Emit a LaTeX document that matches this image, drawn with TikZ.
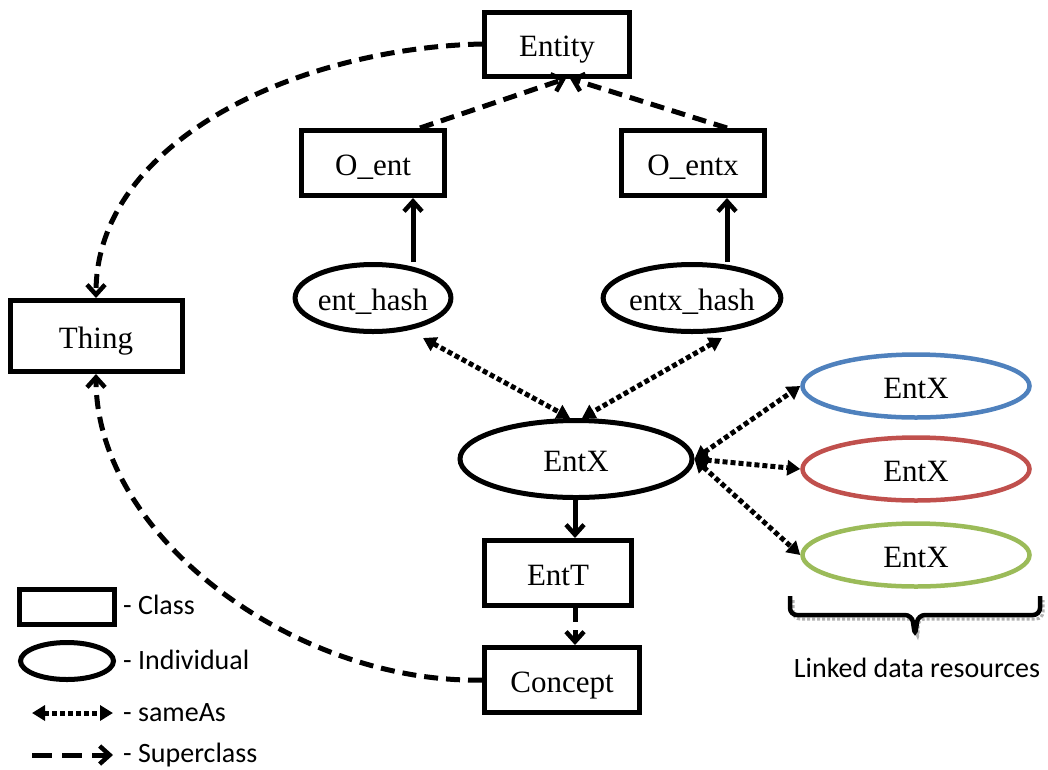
\documentclass[tikz,border=0pt]{standalone}
\usepackage{fontspec}
\setmainfont{Liberation Serif}
\newfontfamily\legendfont{Carlito}
\usetikzlibrary{arrows.meta,shapes.geometric,calc}
\definecolor{linkblue}{HTML}{4F81BD}
\definecolor{linkred}{HTML}{C0504D}
\definecolor{linkgreen}{HTML}{9BBB59}
\tikzset{
  classbox/.style={draw, line width=5pt, rectangle, inner sep=0pt,
    text height=25pt, text depth=0pt,
    font=\fontsize{31}{34}\selectfont},
  indiv/.style={draw, line width=5pt, ellipse, inner sep=0pt,
    text height=25pt, text depth=0pt,
    font=\fontsize{31}{34}\selectfont},
  superclass/.style={line width=5pt, dash pattern=on 14pt off 8pt,
    -{Straight Barb[length=10pt,width=18pt,line width=4.5pt]}},
  subsolid/.style={line width=5pt,
    -{Straight Barb[length=10pt,width=18pt,line width=4.5pt]}},
  sameas/.style={line width=5pt, dash pattern=on 5pt off 3pt,
    {Triangle[length=13pt,width=15pt]}-{Triangle[length=13pt,width=15pt]}},
  legendtext/.style={anchor=west, inner sep=0pt,
    font=\legendfont\fontsize{28}{31}\selectfont},
}
\begin{document}
\begin{tikzpicture}[x=1pt,y=-1pt]
\useasboundingbox (0,0) rectangle (1048,769);

% classes
\node[classbox, minimum width=145pt, minimum height=64pt] (entity) at (557,44) {Entity};
\node[classbox, minimum width=143pt, minimum height=65pt] (oent) at (373,163) {O\_ent};
\node[classbox, minimum width=143pt, minimum height=65pt] (oentx) at (693,163) {O\_entx};
\node[classbox, minimum width=172pt, minimum height=71pt] (thing) at (96,336) {Thing};
\node[classbox, minimum width=147pt, minimum height=65pt] (entt) at (558,573) {EntT};
\node[classbox, minimum width=155pt, minimum height=65pt] (concept) at (562,680) {Concept};

% individuals
\node[indiv, minimum width=143pt, minimum height=67pt] (enthash) at (373,298) {ent\_hash};
\node[indiv, minimum width=165pt, minimum height=67pt] (entxhash) at (692,298) {entx\_hash};
\node[indiv, minimum width=232pt, minimum height=77pt] (entx) at (576,459) {EntX};
\node[indiv, line width=4.5pt, draw=linkblue, minimum width=227pt, minimum height=63pt] (ldblue) at (916,386) {EntX};
\node[indiv, line width=4.5pt, draw=linkred, minimum width=227pt, minimum height=63pt] (ldred) at (916,469) {EntX};
\node[indiv, line width=4.5pt, draw=linkgreen, minimum width=227pt, minimum height=63pt] (ldgreen) at (916,555) {EntX};

% superclass links
\draw[superclass] (oent.north -| 420,0) -- (entity.south -| 566,0);
\draw[superclass] (oentx.north -| 727,0) -- (entity.south -| 570,0);
\draw[superclass] (entity.west) .. controls (300,48) and (96,140) .. (thing.north);
\draw[superclass] (concept.west) .. controls (300,684) and (96,540) .. (thing.south);
\draw[superclass] (entt.south -| 575,0) -- (concept.north -| 575,0);

% instance-of links
\draw[subsolid] (enthash.north -| 413,0) -- (oent.south -| 413,0);
\draw[subsolid] (entxhash.north -| 727,0) -- (oentx.south -| 727,0);
\draw[subsolid] (entx.south -| 575,0) -- (entt.north -| 575,0);

% sameAs links
\draw[sameas] ($(enthash.south)+(50,4)$) -- ($(entx.north)+(-6,0)$);
\draw[sameas] ($(entxhash.south)+(30,4)$) -- ($(entx.north)+(6,0)$);
\coordinate (hub) at (entx.east);
\draw[sameas] (hub) -- (ldblue.west);
\draw[sameas] (hub) -- (ldred.west);
\draw[sameas] (hub) -- (ldgreen.west);

% brace under the linked data resources
\draw[gray!60, line width=3pt, dotted, rounded corners=7pt]
  (793,600) -- (793,619) -- (915,619) -- (918,640) -- (918,619) -- (1043,619) -- (1043,600);
\draw[line width=4.5pt, rounded corners=7pt]
  (790,596) -- (790,615) -- (912,615) -- (915,636) -- (918,615) -- (1040,615) -- (1040,596);
\node[legendtext, anchor=center] (ldlabel) at (917,668) {Linked data resources};

% legend
\node[classbox, minimum width=95pt, minimum height=35pt] (lgclass) at (67,607) {};
\node[legendtext] (lgclasst) at (123,605) {- Class};
\node[indiv, minimum width=93pt, minimum height=37pt] (lgind) at (67,661) {};
\node[legendtext] (lgindt) at (123,660) {- Individual};
\coordinate (sa1) at (32,713);
\coordinate (sa2) at (113,713);
\draw[sameas] (sa1) -- (sa2);
\node[legendtext] (lgsamet) at (123,713) {- sameAs};
\coordinate (sc1) at (32,755);
\coordinate (sc2) at (113,755);
\draw[superclass, dash pattern=on 20pt off 10pt] (sc1) -- (sc2);
\node[legendtext] (lgsupt) at (123,755) {- Superclass};
\end{tikzpicture}
\end{document}
